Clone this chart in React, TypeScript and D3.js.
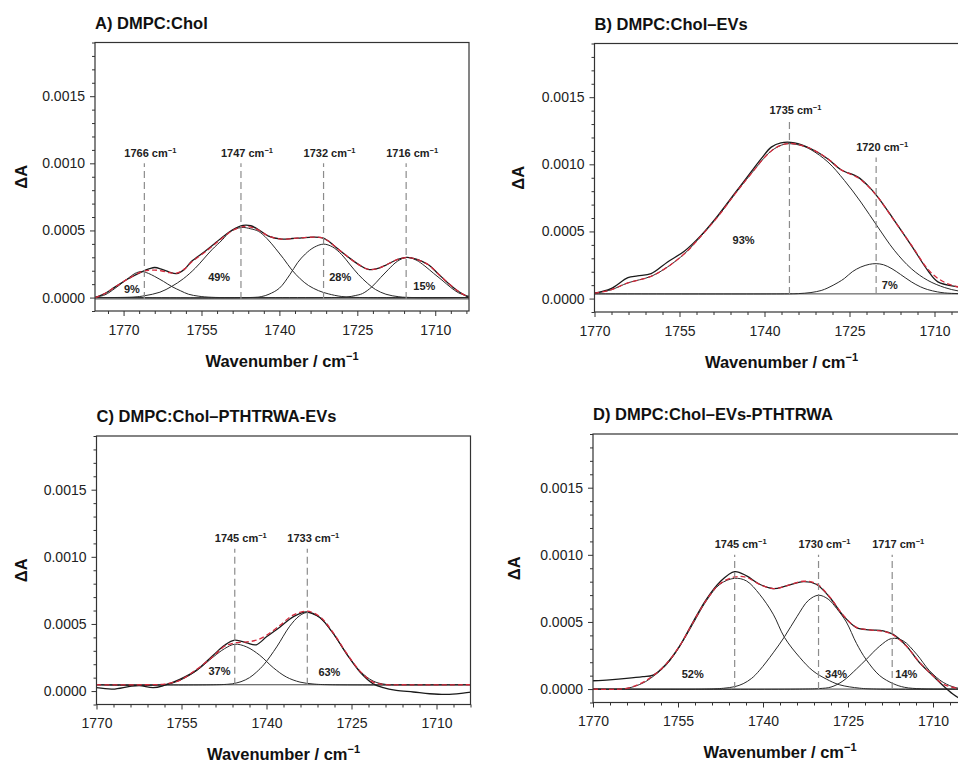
import React, { useEffect, useRef } from 'react';
import * as d3 from 'd3';

type Pt = [number, number];

// ---- Panel A: DMPC:Chol ----
const expA: Pt[] = [
  [1775.5, 0], [1773.6, 0.00003], [1771.6, 0.00008], [1769.1, 0.00014], [1766.5, 0.000192],
  [1765, 0.000215], [1764, 0.000224], [1762.6, 0.00021], [1761.2, 0.00019], [1759.8, 0.000178],
  [1758.3, 0.00021], [1756.9, 0.00027], [1754.3, 0.000345], [1751.1, 0.000445], [1749, 0.000505],
  [1747, 0.000538], [1745.5, 0.000535], [1744, 0.000505], [1742.1, 0.000458], [1739.6, 0.000436],
  [1737.5, 0.00044], [1735.7, 0.000445], [1733.5, 0.00045], [1731.9, 0.000446], [1730.5, 0.00042],
  [1729.3, 0.00038], [1726.7, 0.0003], [1724.5, 0.00024], [1722.9, 0.00021], [1721.2, 0.000215],
  [1719.7, 0.000238], [1717.5, 0.00028], [1715.5, 0.0003], [1713.5, 0.000285], [1711.3, 0.000244],
  [1709.5, 0.00018], [1707.5, 0.000107], [1705.5, 0.000045], [1703.5, 0],
];
const fitA: Pt[] = [
  [1775.5, 0], [1773.6, 0.00003], [1771.6, 0.00008], [1769.1, 0.00014], [1766.5, 0.000192],
  [1765, 0.000203], [1764, 0.000205], [1762.6, 0.000198], [1761.2, 0.000186], [1759.8, 0.000182],
  [1758.3, 0.000212], [1756.9, 0.000265], [1754.3, 0.00034], [1751.1, 0.00044], [1749, 0.0005],
  [1747, 0.000528], [1745.5, 0.000525], [1744, 0.000502], [1742.1, 0.000458], [1739.6, 0.000436],
  [1737.5, 0.00044], [1735.7, 0.000445], [1733.5, 0.00045], [1731.9, 0.000446], [1730.5, 0.00042],
  [1729.3, 0.00038], [1726.7, 0.0003], [1724.5, 0.00024], [1722.9, 0.00021], [1721.2, 0.000215],
  [1719.7, 0.000238], [1717.5, 0.00028], [1715.5, 0.000298], [1713.5, 0.000283], [1711.3, 0.000244],
  [1709.5, 0.00018], [1707.5, 0.000107], [1705.5, 0.000045], [1703.5, 0],
];
const bandA1766: Pt[] = [
  [1775.5, 0.000003], [1773.6, 0.00002], [1771.6, 0.00007], [1769.1, 0.000144], [1767.8, 0.00018],
  [1766.5, 0.000194], [1765.2, 0.00018], [1764, 0.000157], [1762.3, 0.00012], [1760.7, 0.000082],
  [1759, 0.00005], [1757.5, 0.000025], [1755.5, 0.00001], [1753, 0.000002], [1745, 0], [1703.5, 0],
];
const bandA1747: Pt[] = [
  [1775.5, 0], [1768, 0.000004], [1765.9, 0.000014], [1763, 0.00004], [1760.7, 0.000084],
  [1758.5, 0.00014], [1756.2, 0.000219], [1753, 0.000356], [1751, 0.00043], [1749.5, 0.00049],
  [1747.3, 0.000522], [1745.5, 0.000512], [1744, 0.000493], [1742.4, 0.00044], [1740.8, 0.000368],
  [1739.2, 0.00029], [1737.6, 0.000206], [1736, 0.00014], [1734.4, 0.00009], [1732.5, 0.000052],
  [1730.6, 0.000028], [1728, 0.000008], [1724, 0], [1703.5, 0],
];
const bandA1732: Pt[] = [
  [1775.5, 0], [1746, 0], [1743.5, 0.000007], [1742, 0.000025], [1740, 0.00007], [1738, 0.00017],
  [1736.5, 0.00026], [1735, 0.000325], [1733.3, 0.000375], [1731.5, 0.000398], [1729.8, 0.000378],
  [1728, 0.00032], [1726.5, 0.00025], [1724.8, 0.000172], [1723, 0.000105], [1721.5, 0.00006],
  [1719.5, 0.000025], [1717, 0.000006], [1714, 0], [1703.5, 0],
];
const bandA1716: Pt[] = [
  [1775.5, 0], [1730, 0], [1727, 0.000004], [1725.4, 0.000015], [1724, 0.00003], [1722.2, 0.00008],
  [1720.5, 0.00015], [1719, 0.00021], [1717.3, 0.00027], [1715.5, 0.000299], [1713.7, 0.00028],
  [1712, 0.000235], [1710.3, 0.00018], [1708.7, 0.00013], [1707, 0.000075], [1705.5, 0.000035],
  [1703.5, 0.00001],
];
const peaksA = [1766, 1747.4, 1731.5, 1715.6];
const peakNamesA = ['1766', '1747', '1732', '1716'];
const peakTopsA = [0.001, 0.001, 0.001, 0.001];
const shareNamesA = ['9%', '49%', '28%', '15%'];
const shareSpotsA: Pt[] = [[1768.4, 0.000033], [1751.6, 0.000127], [1728.3, 0.000127], [1712.1, 0.000057]];

// ---- Panel B: DMPC:Chol–EVs ----
const expB: Pt[] = [
  [1770, 0.00004], [1767.1, 0.000074], [1764.1, 0.000156], [1762.4, 0.000169], [1760, 0.000186],
  [1757.1, 0.000273], [1754.1, 0.000355], [1751.2, 0.000471], [1748.2, 0.00062], [1745.3, 0.000781],
  [1742.4, 0.000942], [1740.6, 0.00104], [1738.8, 0.001128], [1737.1, 0.00116], [1734.7, 0.00116],
  [1731.8, 0.001116], [1728.8, 0.00104], [1726.5, 0.00096], [1723.5, 0.000905], [1721.8, 0.000843],
  [1720, 0.000756], [1717.1, 0.000583], [1714.1, 0.000397], [1711.2, 0.00021], [1709.4, 0.000124],
  [1705.8, 0.000087], [1704, 0.00008],
];
const fitB: Pt[] = [
  [1770, 0.00004], [1767.1, 0.000065], [1764.1, 0.000117], [1760, 0.000166], [1757.1, 0.000236],
  [1754.1, 0.000335], [1751.2, 0.000465], [1748.2, 0.000612], [1745.3, 0.000774], [1742.4, 0.000928],
  [1738.8, 0.0011], [1736.5, 0.00115], [1734.7, 0.001153], [1731.8, 0.001116], [1728.8, 0.00104],
  [1726.5, 0.00096], [1723.5, 0.0009], [1721.8, 0.00084], [1720, 0.000756], [1717.1, 0.00058],
  [1714.1, 0.0004], [1711.2, 0.00022], [1709.4, 0.00015], [1707, 0.0001], [1704, 0.000075],
];
const bandB1735: Pt[] = [
  [1770, 0.00004], [1767.1, 0.000065], [1764.1, 0.000117], [1760, 0.000166], [1757.1, 0.000236],
  [1754.1, 0.000335], [1751.2, 0.000465], [1748.2, 0.000612], [1745.3, 0.000774], [1742.4, 0.000928],
  [1738.8, 0.0011], [1736.5, 0.00115], [1735.3, 0.001153], [1733.5, 0.00114], [1731.8, 0.001109],
  [1728.8, 0.001017], [1725.9, 0.00088], [1723, 0.000719], [1720, 0.000533], [1717.1, 0.00036],
  [1714.1, 0.000223], [1711.2, 0.000136], [1708.2, 0.000082], [1705.8, 0.000057], [1704, 0.00005],
];
const bandB1720: Pt[] = [
  [1770, 0.000035], [1736, 0.000035], [1734, 0.000037], [1731.8, 0.000045], [1730, 0.00006],
  [1728.8, 0.00008], [1727, 0.00012], [1725.9, 0.00015], [1724.5, 0.0002], [1723, 0.000235],
  [1721.5, 0.000255], [1720.3, 0.00026], [1719, 0.000252], [1717.5, 0.000222], [1716, 0.00018],
  [1714.1, 0.000125], [1712.5, 0.000088], [1711.2, 0.000067], [1709.5, 0.00005], [1708.2, 0.000042],
  [1705.8, 0.000037], [1704, 0.000036],
];
const peaksB = [1735.6, 1720.3];
const peakNamesB = ['1735', '1720'];
const peakTopsB = [0.00133, 0.00105];
const shareNamesB = ['93%', '7%'];
const shareSpotsB: Pt[] = [[1743.7, 0.00041], [1717.9, 0.000074]];

// ---- Panel C: DMPC:Chol–PTHTRWA-EVs ----
const expC: Pt[] = [
  [1770, 0.000025], [1767.1, 0.000015], [1764.1, 0.000035], [1762.4, 0.00004], [1760, 0.000025],
  [1758.2, 0.00004], [1755.3, 0.000087], [1752.4, 0.000154], [1749.4, 0.000267], [1747.4, 0.000341],
  [1745.6, 0.000379], [1743.5, 0.000359], [1741.8, 0.000345], [1740, 0.000404], [1737.6, 0.000478],
  [1735.3, 0.000553], [1732.9, 0.00059], [1730.6, 0.000548], [1728.2, 0.000428], [1725.9, 0.000279],
  [1723.5, 0.000142], [1721.2, 0.000055], [1719.4, 0.000025], [1717.1, 0.000005], [1714.1, -0.000007],
  [1711.2, -0.00002], [1708.2, -0.000025], [1705.3, -0.000015], [1703.8, -0.000007],
];
const fitC: Pt[] = [
  [1770, 0.000047], [1760, 0.000048], [1758, 0.000052], [1756.5, 0.000065], [1755.3, 0.00008],
  [1752.4, 0.000159], [1749.4, 0.000259], [1747.4, 0.000334], [1745.6, 0.000359], [1743.5, 0.000366],
  [1741.8, 0.000379], [1740, 0.000416], [1737.6, 0.000491], [1735.3, 0.000566], [1732.9, 0.000595],
  [1730.6, 0.000555], [1728.2, 0.000433], [1725.9, 0.000284], [1723.5, 0.000149], [1721.2, 0.000067],
  [1719, 0.000048], [1716, 0.000047], [1703.8, 0.000047],
];
const bandC1745: Pt[] = [
  [1770, 0.000047], [1758, 0.000048], [1755.3, 0.00008], [1752.4, 0.00015], [1749.4, 0.000254],
  [1747.4, 0.000316], [1745.6, 0.000349], [1743.5, 0.000329], [1741.2, 0.000267], [1738.8, 0.000174],
  [1736.5, 0.000105], [1734.1, 0.000067], [1731.8, 0.000053], [1728.8, 0.000047], [1703.8, 0.000047],
];
const bandC1733: Pt[] = [
  [1770, 0.000047], [1748, 0.000048], [1746, 0.000055], [1744.5, 0.00007], [1743, 0.0001],
  [1741.8, 0.00014], [1740.4, 0.0002], [1738.2, 0.000329], [1735.9, 0.000483], [1734.2, 0.00056],
  [1732.9, 0.000585], [1731.6, 0.00057], [1730.6, 0.000548], [1728.2, 0.000428], [1725.9, 0.000279],
  [1723.5, 0.000149], [1721.2, 0.000075], [1719, 0.00005], [1716, 0.000047], [1703.8, 0.000047],
];
const peaksC = [1745.6, 1732.8];
const peakNamesC = ['1745', '1733'];
const peakTopsC = [0.00106, 0.00106];
const shareNamesC = ['37%', '63%'];
const shareSpotsC: Pt[] = [[1748.3, 0.000123], [1728.9, 0.00011]];

// ---- Panel D: DMPC:Chol–EVs-PTHTRWA ----
const expD: Pt[] = [
  [1770, 0.000062], [1767.1, 0.000069], [1764.1, 0.000079], [1761.2, 0.000092], [1759.4, 0.000104],
  [1757.1, 0.000186], [1754.7, 0.000322], [1752.4, 0.000496], [1750, 0.000669], [1747.6, 0.000798],
  [1745, 0.000875], [1742.9, 0.000843], [1740.6, 0.000781], [1738.2, 0.000748], [1735.9, 0.000768],
  [1732.9, 0.0008], [1730.6, 0.000781], [1728.2, 0.000682], [1725.9, 0.00055], [1723.5, 0.000458],
  [1721.2, 0.000441], [1718.8, 0.000434], [1717.1, 0.000409], [1714.7, 0.000322], [1712.4, 0.000198],
  [1710, 0.000099], [1708.2, 0.000025], [1706.5, -0.000037], [1705.6, -0.000062], [1704, -0.00009],
];
const fitD: Pt[] = [
  [1770, 0], [1764.1, 0.000005], [1761.2, 0.00005], [1759.4, 0.0001], [1757.1, 0.000186],
  [1754.7, 0.000322], [1752.4, 0.000492], [1750, 0.000662], [1747.6, 0.000785], [1745, 0.000835],
  [1742.9, 0.000832], [1740.6, 0.00078], [1738.2, 0.000748], [1735.9, 0.000768], [1732.9, 0.000803],
  [1730.6, 0.000785], [1728.2, 0.000685], [1725.9, 0.000553], [1723.5, 0.00046], [1721.2, 0.000441],
  [1718.8, 0.00043], [1717.1, 0.000405], [1714.7, 0.00032], [1712.4, 0.0002], [1710, 0.0001],
  [1708.2, 0.000037], [1705.6, 0.000005], [1704, 0],
];
const bandD1745: Pt[] = [
  [1770, 0], [1764.1, 0.000005], [1761.2, 0.000045], [1759.4, 0.000094], [1757.1, 0.000178],
  [1754.7, 0.000317], [1752.4, 0.000483], [1750, 0.000657], [1747.6, 0.000781], [1745, 0.000825],
  [1742.9, 0.000805], [1740.6, 0.000706], [1738.2, 0.000558], [1736.2, 0.000384], [1733.5, 0.000235],
  [1731.2, 0.000136], [1728.8, 0.000074], [1726.5, 0.000032], [1723, 0.000007], [1720, 0], [1704, 0],
];
const bandD1730: Pt[] = [
  [1770, 0], [1750, 0], [1747, 0.000006], [1745, 0.000018], [1743.5, 0.00004], [1742, 0.00008],
  [1740.6, 0.00014], [1738.2, 0.00027], [1736.2, 0.00039], [1734, 0.00054], [1732, 0.00066],
  [1730.2, 0.000699], [1728.5, 0.00067], [1727, 0.0006], [1725.3, 0.0005], [1723.5, 0.00034],
  [1721.8, 0.00022], [1719.4, 0.0001], [1717, 0.00004], [1715, 0.000013], [1712, 0.000002], [1704, 0],
];
const bandD1717: Pt[] = [
  [1770, 0], [1733, 0], [1730, 0.000004], [1728, 0.000015], [1725.9, 0.00006], [1723.5, 0.00015],
  [1721.8, 0.00022], [1719.4, 0.00032], [1717.3, 0.000377], [1715.3, 0.00036], [1712.9, 0.00026],
  [1710.6, 0.000136], [1708.2, 0.00005], [1705.9, 0.00001], [1704, 0.000003],
];
const peaksD = [1745, 1730.2, 1717.2];
const peakNamesD = ['1745', '1730', '1717'];
const peakTopsD = [0.001, 0.001, 0.001];
const shareNamesD = ['52%', '34%', '14%'];
const shareSpotsD: Pt[] = [[1752.4, 0.00008], [1727.1, 0.00008], [1714.7, 0.00008]];

const yTicks = [0, 0.0005, 0.001, 0.0015];
const xTicks = [1770, 1755, 1740, 1725, 1710];

interface PanelDef {
  title: string;
  left: number;
  top: number;
  titleY: number;
  labelX: number;
  xDomain: [number, number];
  base: number;
  exp: Pt[];
  fit: Pt[];
  bands: Pt[][];
  peaks: number[];
  peakNames: string[];
  peakTops: number[];
  shareNames: string[];
  shareSpots: Pt[];
}

const panels: PanelDef[] = [
  {
    title: 'A) DMPC:Chol', left: 95, top: 42.5, titleY: 29, labelX: 27,
    xDomain: [1775.5, 1703.5], base: -0.00001,
    exp: expA, fit: fitA, bands: [bandA1766, bandA1747, bandA1732, bandA1716],
    peaks: peaksA, peakNames: peakNamesA, peakTops: peakTopsA, shareNames: shareNamesA, shareSpots: shareSpotsA,
  },
  {
    title: 'B) DMPC:Chol–EVs', left: 594.5, top: 43.5, titleY: 29.5, labelX: 524,
    xDomain: [1770, 1704], base: 0.000035,
    exp: expB, fit: fitB, bands: [bandB1735, bandB1720],
    peaks: peaksB, peakNames: peakNamesB, peakTops: peakTopsB, shareNames: shareNamesB, shareSpots: shareSpotsB,
  },
  {
    title: 'C) DMPC:Chol–PTHTRWA-EVs', left: 96.5, top: 436, titleY: 421.5, labelX: 26.5,
    xDomain: [1770, 1704], base: 0.000047,
    exp: expC, fit: fitC, bands: [bandC1745, bandC1733],
    peaks: peaksC, peakNames: peakNamesC, peakTops: peakTopsC, shareNames: shareNamesC, shareSpots: shareSpotsC,
  },
  {
    title: 'D) DMPC:Chol–EVs-PTHTRWA', left: 593, top: 434, titleY: 420, labelX: 520,
    xDomain: [1770, 1704], base: 0,
    exp: expD, fit: fitD, bands: [bandD1745, bandD1730, bandD1717],
    peaks: peaksD, peakNames: peakNamesD, peakTops: peakTopsD, shareNames: shareNamesD, shareSpots: shareSpotsD,
  },
];

const W = 374;
const H = 268.5;
const FONT = '"Liberation Sans", Arial, Helvetica, sans-serif';

const App: React.FC = () => {
  const svgRef = useRef<SVGSVGElement>(null);

  useEffect(() => {
    if (!svgRef.current) return;
    const svg = d3.select(svgRef.current);
    svg.selectAll('*').remove();

    panels.forEach((p, i) => {
      const x = d3.scaleLinear().domain(p.xDomain).range([0, W]);
      const y = d3.scaleLinear().domain([-0.0001, 0.0019]).range([H, 0]);

      // title
      svg.append('text')
        .attr('x', p.left)
        .attr('y', p.titleY)
        .style('font-family', FONT)
        .style('font-size', '16.5px')
        .style('font-weight', 'bold')
        .style('fill', '#111')
        .text(p.title);

      // y label
      svg.append('text')
        .attr('transform', `translate(${p.labelX}, ${p.top + H / 2}) rotate(-90)`)
        .attr('text-anchor', 'middle')
        .style('font-family', FONT)
        .style('font-size', '16.5px')
        .style('font-weight', 'bold')
        .style('fill', '#111')
        .text('ΔA');

      const g = svg.append('g').attr('transform', `translate(${p.left}, ${p.top})`);

      g.append('clipPath').attr('id', `clip${i}`)
        .append('rect').attr('width', W).attr('height', H);

      const plot = g.append('g').attr('clip-path', `url(#clip${i})`);

      const line = d3.line<Pt>()
        .x(d => x(d[0]))
        .y(d => y(d[1]))
        .curve(d3.curveCatmullRom.alpha(0.5));

      // baseline
      plot.append('line')
        .attr('x1', 0).attr('x2', W)
        .attr('y1', y(p.base)).attr('y2', y(p.base))
        .style('stroke', '#444').style('stroke-width', 1);

      // fitted bands
      p.bands.forEach(b => {
        plot.append('path').datum(b)
          .attr('d', line)
          .style('fill', 'none').style('stroke', '#2a2a2a').style('stroke-width', 1);
      });

      // experimental spectrum
      plot.append('path').datum(p.exp)
        .attr('d', line)
        .style('fill', 'none').style('stroke', '#1a1a1a').style('stroke-width', 1.3);

      // fit sum (red dashed)
      plot.append('path').datum(p.fit)
        .attr('d', line)
        .style('fill', 'none').style('stroke', '#d42a3c').style('stroke-width', 1.3)
        .style('stroke-dasharray', '5,3');

      // peak marker lines + labels
      p.peaks.forEach((pk, k) => {
        g.append('line')
          .attr('x1', x(pk)).attr('x2', x(pk))
          .attr('y1', y(p.base)).attr('y2', y(p.peakTops[k]))
          .style('stroke', '#8c8c8c').style('stroke-width', 1.2)
          .style('stroke-dasharray', '7,4');

        const t = g.append('text')
          .attr('x', x(pk) + 6)
          .attr('y', y(p.peakTops[k]) - 6.5)
          .attr('text-anchor', 'middle')
          .style('font-family', FONT)
          .style('font-size', '11px')
          .style('font-weight', 'bold')
          .style('fill', '#222');
        t.append('tspan').text(`${p.peakNames[k]} cm`);
        t.append('tspan').attr('dy', -4).style('font-size', '7.5px').text('−1');
      });

      // band share labels
      p.shareNames.forEach((s, k) => {
        g.append('text')
          .attr('x', x(p.shareSpots[k][0]))
          .attr('y', y(p.shareSpots[k][1]))
          .attr('text-anchor', 'middle')
          .style('font-family', FONT)
          .style('font-size', '11px')
          .style('font-weight', 'bold')
          .style('fill', '#222')
          .text(s);
      });

      // frame
      g.append('rect')
        .attr('width', W).attr('height', H)
        .style('fill', 'none').style('stroke', '#333').style('stroke-width', 1.2);

      // x axis
      const [x0, x1] = p.xDomain;
      const xMinor = d3.range(1770 + 3 * Math.floor((x0 - 1770) / 3), x1 - 0.01, -3)
        .filter(v => !xTicks.includes(v));
      const xMinorAxis = g.append('g')
        .attr('transform', `translate(0, ${H})`)
        .call(d3.axisBottom(x).tickValues(xMinor).tickSize(3).tickFormat(() => ''));
      xMinorAxis.select('.domain').remove();

      const xAxis = g.append('g')
        .attr('transform', `translate(0, ${H})`)
        .call(d3.axisBottom(x).tickValues(xTicks).tickSize(5).tickPadding(9).tickFormat(d3.format('d')));
      xAxis.select('.domain').remove();
      xAxis.selectAll('text')
        .style('font-family', FONT).style('font-size', '14px').style('fill', '#222');

      // y axis
      const yMinor = d3.range(-0.0001, 0.00191, 0.0001)
        .map(v => Math.round(v * 10000) / 10000)
        .filter(v => !yTicks.some(t => Math.abs(t - v) < 1e-9));
      const yMinorAxis = g.append('g')
        .call(d3.axisLeft(y).tickValues(yMinor).tickSize(3).tickFormat(() => ''));
      yMinorAxis.select('.domain').remove();

      const yAxis = g.append('g')
        .call(d3.axisLeft(y).tickValues(yTicks).tickSize(5).tickPadding(5).tickFormat(d3.format('.4f')));
      yAxis.select('.domain').remove();
      yAxis.selectAll('text')
        .style('font-family', FONT).style('font-size', '14px').style('fill', '#222');

      g.selectAll('.tick line').style('stroke', '#333');

      // x title
      const xt = svg.append('text')
        .attr('x', p.left + W / 2)
        .attr('y', p.top + H + 55.5)
        .attr('text-anchor', 'middle')
        .style('font-family', FONT)
        .style('font-size', '16.5px')
        .style('font-weight', 'bold')
        .style('fill', '#111');
      xt.append('tspan').text('Wavenumber / cm');
      xt.append('tspan').attr('dy', -7).style('font-size', '11px').text('−1');
    });
  }, []);

  return (
    <svg
      ref={svgRef}
      width={958}
      height={762}
      style={{ position: 'absolute', left: 0, top: 0, background: '#fff' }}
    />
  );
};

export default App;
